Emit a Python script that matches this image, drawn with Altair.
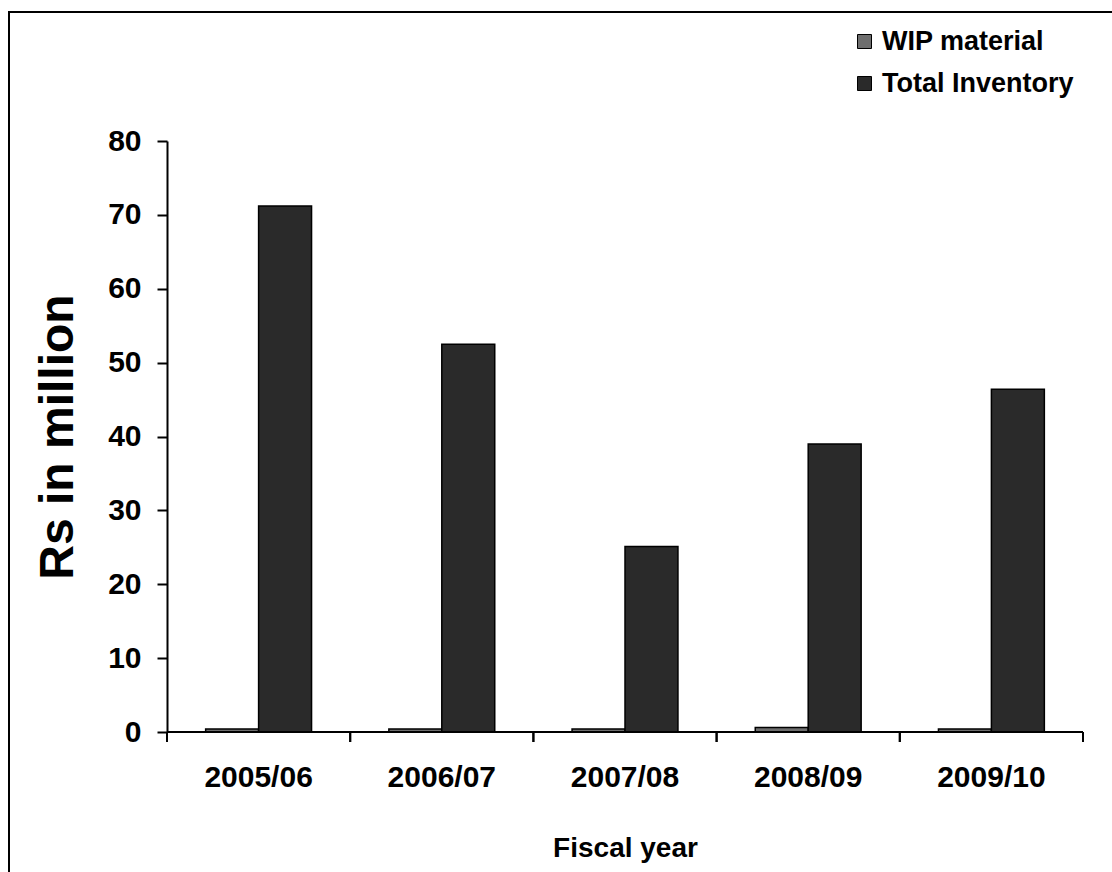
import altair as alt
import pandas as pd

years = ["2005/06", "2006/07", "2007/08", "2008/09", "2009/10"]
wip = [0.4, 0.4, 0.4, 0.6, 0.4]
total = [71.2, 52.5, 25.1, 39.0, 46.4]
series = ["WIP material", "Total Inventory"]
y_ticks = [0, 10, 20, 30, 40, 50, 60, 70, 80]

rows = []
for i, y in enumerate(years):
    rows.append({"year": y, "series": series[0], "value": wip[i]})
    rows.append({"year": y, "series": series[1], "value": total[i]})
df = pd.DataFrame(rows)
ydf = pd.DataFrame({"year": years})

FONT = "Liberation Sans"
W, H = 916, 591

xscale = alt.Scale(domain=years, paddingInner=0, paddingOuter=0)

bars = alt.Chart(df).mark_bar(stroke="black", strokeWidth=1.5).encode(
    x=alt.X("year:N", scale=xscale, sort=years,
            axis=alt.Axis(title="Fiscal year", ticks=False, domain=False, labelAngle=0,
                          labelFontSize=30, labelFontWeight="bold", labelFont=FONT,
                          labelColor="black", labelPadding=30,
                          titleFontSize=28, titleFontWeight="bold", titleFont=FONT,
                          titleColor="black", titlePadding=42)),
    xOffset=alt.XOffset("series:N", sort=series,
                        scale=alt.Scale(domain=series, paddingInner=0, paddingOuter=0.73)),
    y=alt.Y("value:Q", scale=alt.Scale(domain=[0, 80], nice=False),
            axis=alt.Axis(title="Rs in million", values=y_ticks, grid=False,
                          domainColor="black", domainWidth=2, tickColor="black",
                          tickWidth=2, tickSize=10,
                          labelFontSize=30, labelFontWeight="bold", labelFont=FONT,
                          labelColor="black", labelPadding=16,
                          titleFontSize=48, titleFontWeight="bold", titleFont=FONT,
                          titleColor="black", titlePadding=25)),
    color=alt.Color("series:N", sort=series,
                    scale=alt.Scale(domain=series, range=["#6e6e6e", "#2a2a2a"]),
                    legend=alt.Legend(title=None, orient="none", legendX=684, legendY=-113,
                                      symbolType="square", symbolSize=196,
                                      symbolStrokeColor="black", symbolStrokeWidth=1,
                                      labelFontSize=27, labelFontWeight="bold", labelFont=FONT,
                                      labelColor="black", rowPadding=14, labelOffset=4,
                                      labelLimit=400)),
)

xdomain = alt.Chart(ydf).mark_rule(color="black", strokeWidth=2).encode(
    x=alt.value(0), x2=alt.value(W), y=alt.value(H)
)

ticks0 = alt.Chart(ydf).mark_rule(color="black", strokeWidth=2).encode(
    x=alt.X("year:N", scale=xscale, sort=years, bandPosition=0),
    y=alt.value(H), y2=alt.value(H + 10)
)
ticks1 = alt.Chart(ydf).mark_rule(color="black", strokeWidth=2).encode(
    x=alt.X("year:N", scale=xscale, sort=years, bandPosition=1),
    y=alt.value(H), y2=alt.value(H + 10)
)

border = alt.Chart(ydf).mark_rect(fill=None, stroke="black", strokeWidth=2).encode(
    x=alt.value(-158), x2=alt.value(1000), y=alt.value(-129), y2=alt.value(800)
)

chart = alt.layer(border, bars, xdomain, ticks0, ticks1).properties(
    width=W, height=H,
    padding={"left": 167, "top": 141, "right": 29, "bottom": 140},
    autosize=alt.AutoSizeParams(type="none"),
    background="white",
).configure_view(stroke=None).configure_axisX(domain=False)

chart.save("out.html", embed_options={"renderer": "svg", "actions": False})
